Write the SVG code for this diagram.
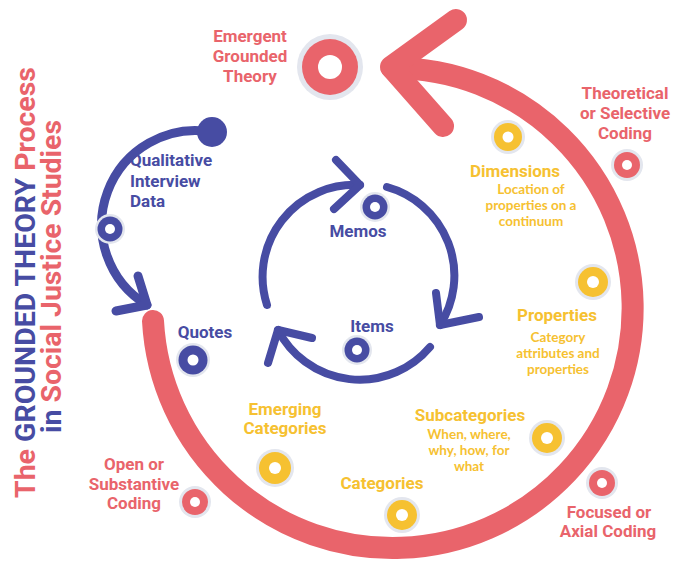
<svg xmlns="http://www.w3.org/2000/svg" width="673" height="562" viewBox="0 0 673 562">
<style>
text{font-family:Roboto,"Liberation Sans",sans-serif;font-weight:700;}
.r{fill:#E9646B}
.b{fill:#474CA3}
.y{fill:#F6C131}
.sub{font-family:Lato,"Liberation Sans",sans-serif;font-size:13.5px;fill:#F6C131;text-anchor:middle}
.lbl{font-size:17px;text-anchor:middle}
.halo{fill:#E3E6EE}
.hole{fill:#fff}
.redline{fill:none;stroke:#E9646B;stroke-width:22;stroke-linecap:round;stroke-linejoin:round}
.blueline{fill:none;stroke:#474CA3;stroke-width:9;stroke-linecap:round;stroke-linejoin:round}
.blueline2{fill:none;stroke:#474CA3;stroke-width:8;stroke-linecap:round;stroke-linejoin:round}
</style>
<rect width="673" height="562" fill="#fff"/>

<g id="title">
<text transform="translate(35,498) rotate(-90)" font-size="28" textLength="431" lengthAdjust="spacingAndGlyphs"><tspan class="r">The </tspan><tspan class="b">GROUNDED THEORY</tspan><tspan class="r"> Process</tspan></text>
<text transform="translate(61,433) rotate(-90)" font-size="28" textLength="313" lengthAdjust="spacingAndGlyphs"><tspan class="b">in </tspan><tspan class="r">Social Justice Studies</tspan></text>
</g>

<g id="connectors">
<path class="redline" d="M 153 321 A 240 240 0 1 0 392 68"/>
<path class="redline" d="M 456 20 L 391 67 L 443 126"/>
<path class="blueline" d="M 212 132 A 94 94 0 0 0 147 305"/>
<path class="blueline" d="M 138 276 L 147 305 L 116 311"/>
<path class="blueline2" d="M 267 305 A 92 92 0 0 1 360 185"/>
<path class="blueline2" d="M 336 160 L 360 185 L 334 209"/>
<path class="blueline2" d="M 387 187 A 92 92 0 0 1 440 325"/>
<path class="blueline2" d="M 436 293 L 440 325 L 479 317"/>
<path class="blueline2" d="M 430 347 A 92 92 0 0 1 278 330"/>
<path class="blueline2" d="M 312 338 L 278 330 L 268 363"/>
</g>

<g id="emergent">
<circle class="halo" cx="330" cy="67" r="33"/>
<circle class="r" cx="330" cy="67" r="28"/>
<circle class="hole" cx="330" cy="67" r="12"/>
<text class="lbl r" x="250" y="42">Emergent</text>
<text class="lbl r" x="250" y="62">Grounded</text>
<text class="lbl r" x="250" y="82">Theory</text>
</g>

<g id="theoretical">
<circle class="halo" cx="627" cy="165" r="16"/>
<circle class="r" cx="627" cy="165" r="13"/>
<circle class="hole" cx="627" cy="165" r="5"/>
<text class="lbl r" x="625" y="99">Theoretical</text>
<text class="lbl r" x="625" y="119">or Selective</text>
<text class="lbl r" x="625" y="139">Coding</text>
</g>

<g id="dimensions">
<circle class="halo" cx="508" cy="137" r="17"/>
<circle class="y" cx="508" cy="137" r="14"/>
<circle class="hole" cx="508" cy="137" r="5.5"/>
<text class="lbl y" x="515" y="177">Dimensions</text>
<text class="sub" x="531" y="194">Location of</text>
<text class="sub" x="531" y="210">properties on a</text>
<text class="sub" x="531" y="226">continuum</text>
</g>

<g id="properties">
<circle class="halo" cx="593" cy="282" r="18"/>
<circle class="y" cx="593" cy="282" r="15"/>
<circle class="hole" cx="593" cy="282" r="6"/>
<text class="lbl y" x="557" y="321">Properties</text>
<text class="sub" x="558" y="342">Category</text>
<text class="sub" x="558" y="358">attributes and</text>
<text class="sub" x="558" y="374">properties</text>
</g>

<g id="subcategories">
<circle class="halo" cx="547" cy="438" r="18"/>
<circle class="y" cx="547" cy="438" r="15"/>
<circle class="hole" cx="547" cy="438" r="6"/>
<text class="lbl y" x="470" y="421">Subcategories</text>
<text class="sub" x="469" y="439">When, where,</text>
<text class="sub" x="469" y="455">why, how, for</text>
<text class="sub" x="469" y="471">what</text>
</g>

<g id="focused">
<circle class="halo" cx="602" cy="483" r="16"/>
<circle class="r" cx="602" cy="483" r="13"/>
<circle class="hole" cx="602" cy="483" r="5"/>
<text class="lbl r" x="609" y="518">Focused or</text>
<text class="lbl r" x="608" y="537">Axial Coding</text>
</g>

<g id="categories">
<circle class="halo" cx="402" cy="515" r="18"/>
<circle class="y" cx="402" cy="515" r="15"/>
<circle class="hole" cx="402" cy="515" r="6"/>
<text class="lbl y" x="382" y="489">Categories</text>
</g>

<g id="emerging">
<circle class="halo" cx="275" cy="468" r="19"/>
<circle class="y" cx="275" cy="468" r="16"/>
<circle class="hole" cx="275" cy="468" r="6"/>
<text class="lbl y" x="285" y="415">Emerging</text>
<text class="lbl y" x="285" y="434">Categories</text>
</g>

<g id="open">
<circle class="halo" cx="195" cy="502" r="16"/>
<circle class="r" cx="195" cy="502" r="13"/>
<circle class="hole" cx="195" cy="502" r="5"/>
<text class="lbl r" x="134" y="470">Open or</text>
<text class="lbl r" x="134" y="490">Substantive</text>
<text class="lbl r" x="134" y="509">Coding</text>
</g>

<g id="qualitative">
<circle class="b" cx="212" cy="132" r="15"/>
<circle class="halo" cx="110" cy="229" r="15"/>
<circle class="b" cx="110" cy="229" r="12.5"/>
<circle class="hole" cx="110" cy="229" r="5"/>
<text class="b" x="130" y="166" font-size="17">Qualitative</text>
<text class="b" x="130" y="187" font-size="17">Interview</text>
<text class="b" x="130" y="207" font-size="17">Data</text>
</g>

<g id="quotes">
<circle class="halo" cx="193" cy="360" r="17"/>
<circle class="b" cx="193" cy="360" r="14.5"/>
<circle class="hole" cx="193" cy="360" r="5.5"/>
<text class="lbl b" x="205" y="338">Quotes</text>
</g>

<g id="memos">
<circle class="halo" cx="375" cy="207" r="15"/>
<circle class="b" cx="375" cy="207" r="12.5"/>
<circle class="hole" cx="375" cy="207" r="5"/>
<text class="lbl b" x="358" y="237">Memos</text>
</g>

<g id="items">
<circle class="halo" cx="357" cy="350" r="15"/>
<circle class="b" cx="357" cy="350" r="12.5"/>
<circle class="hole" cx="357" cy="350" r="5"/>
<text class="lbl b" x="372" y="332">Items</text>
</g>
</svg>
